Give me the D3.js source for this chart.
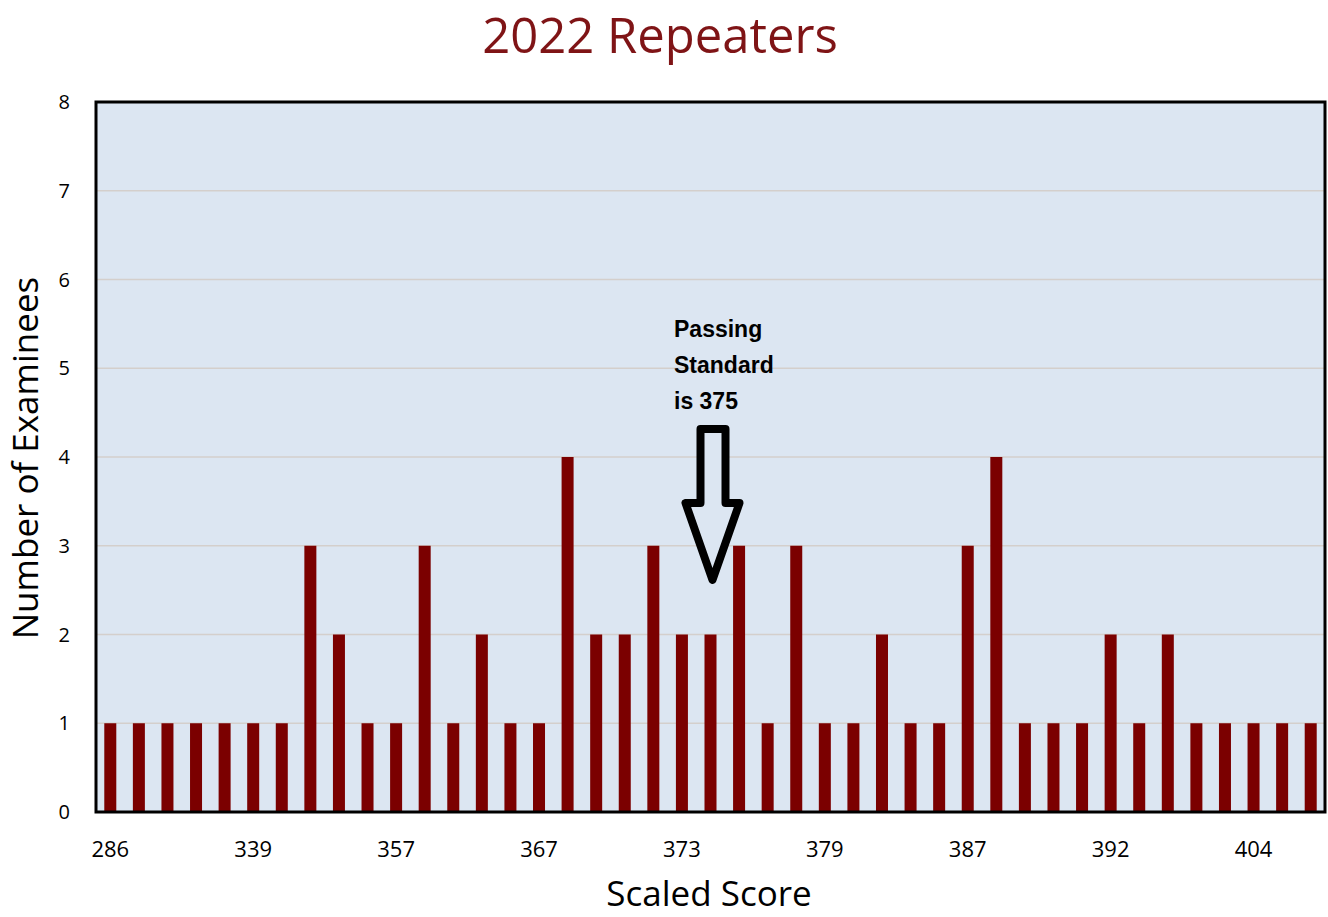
<!DOCTYPE html>
<html>
<head>
<meta charset="utf-8">
<script src="https://cdn.jsdelivr.net/npm/d3@7"></script>
<style>
  body { margin: 0; background: #fff; }
  svg text { font-family: "Open Sans", "Liberation Sans", sans-serif; }
</style>
</head>
<body>
<svg id="chart" width="1328" height="917"></svg>
<script>
/*************************************************************************/

// scaled scores (only every 5th is printed on the axis)
const scores = ['286','305','318','326','333','339','343','347','351','354',
                '357','359','361','363','365','367','368','369','371','372',
                '373','374','375','377','378','379','381','383','384','386',
                '387','388','389','390','391','392','394','396','398','401',
                '404','406','408'];
const counts = [1,1,1,1,1,1,1,3,2,1,
                1,3,1,2,1,1,4,2,2,3,
                2,2,3,1,3,1,1,2,1,1,
                3,4,1,1,1,2,1,2,1,1,
                1,1,1];
const yTicks = [0,1,2,3,4,5,6,7,8];
const passingScore = '374';

/*************************************************************************/

const svg = d3.select('#chart');
const plotL = 96, plotR = 1325, plotT = 102, plotB = 812;

const x = d3.scaleBand()
    .domain(scores)
    .range([plotL, plotR])
    .paddingInner(0.58)
    .paddingOuter(0.29);

const y = d3.scaleLinear()
    .domain([0, 8])
    .range([plotB, plotT]);

// plot background
svg.append('rect')
    .attr('x', plotL).attr('y', plotT)
    .attr('width', plotR - plotL).attr('height', plotB - plotT)
    .style('fill', '#dce6f2');

// gridlines
svg.append('g')
    .selectAll('line')
    .data(yTicks.slice(1, -1))
    .enter().append('line')
    .attr('x1', plotL).attr('x2', plotR)
    .attr('y1', d => y(d)).attr('y2', d => y(d))
    .style('stroke', '#d4cfcc')
    .style('stroke-width', 1.5);

// bars
svg.append('g')
    .selectAll('rect')
    .data(scores)
    .enter().append('rect')
    .attr('x', d => x(d))
    .attr('width', x.bandwidth())
    .attr('y', (d, i) => y(counts[i]))
    .attr('height', (d, i) => y(0) - y(counts[i]))
    .style('fill', '#7b0000');

// frame
svg.append('rect')
    .attr('x', plotL).attr('y', plotT)
    .attr('width', plotR - plotL).attr('height', plotB - plotT)
    .style('fill', 'none')
    .style('stroke', '#000')
    .style('stroke-width', 3);

// y axis labels
svg.append('g')
    .selectAll('text')
    .data(yTicks)
    .enter().append('text')
    .attr('x', 70)
    .attr('y', d => y(d) + 7)
    .attr('text-anchor', 'end')
    .style('font-size', '20px')
    .text(d => d);

// x axis labels, every 5th category
svg.append('g')
    .selectAll('text')
    .data(scores.filter((d, i) => i % 5 === 0))
    .enter().append('text')
    .attr('x', d => x(d) + x.bandwidth() / 2)
    .attr('y', 857)
    .attr('text-anchor', 'middle')
    .style('font-size', '22px')
    .text(d => d);

// titles
svg.append('text')
    .attr('x', 660).attr('y', 53)
    .attr('text-anchor', 'middle')
    .style('font-size', '49px')
    .style('fill', '#7f1416')
    .text('2022 Repeaters');

svg.append('text')
    .attr('x', 709).attr('y', 906)
    .attr('text-anchor', 'middle')
    .style('font-size', '35px')
    .text('Scaled Score');

svg.append('text')
    .attr('transform', 'translate(38,458) rotate(-90)')
    .attr('text-anchor', 'middle')
    .style('font-size', '35px')
    .text('Number of Examinees');

/*************************************************************************/

// passing standard annotation
const ax = x(passingScore) + x.bandwidth() / 2 + 2;
const note = svg.append('text')
    .attr('x', 674).attr('y', 337)
    .style('font-family', '"Liberation Sans", Arial, sans-serif')
    .style('font-weight', 'bold')
    .style('font-size', '23px');
['Passing', 'Standard', 'is 375'].forEach((t, i) => {
    note.append('tspan').attr('x', 674).attr('dy', i ? 36 : 0).text(t);
});

const arrow = d3.path();
arrow.moveTo(ax - 12, 429);
arrow.lineTo(ax + 13, 429);
arrow.lineTo(ax + 13, 503);
arrow.lineTo(ax + 27, 503);
arrow.lineTo(ax, 580);
arrow.lineTo(ax - 27, 503);
arrow.lineTo(ax - 12, 503);
arrow.closePath();

svg.append('path')
    .attr('d', arrow.toString())
    .style('fill', '#dce6f2')
    .style('stroke', '#000')
    .style('stroke-width', 8)
    .style('stroke-linejoin', 'round');
</script>
</body>
</html>
